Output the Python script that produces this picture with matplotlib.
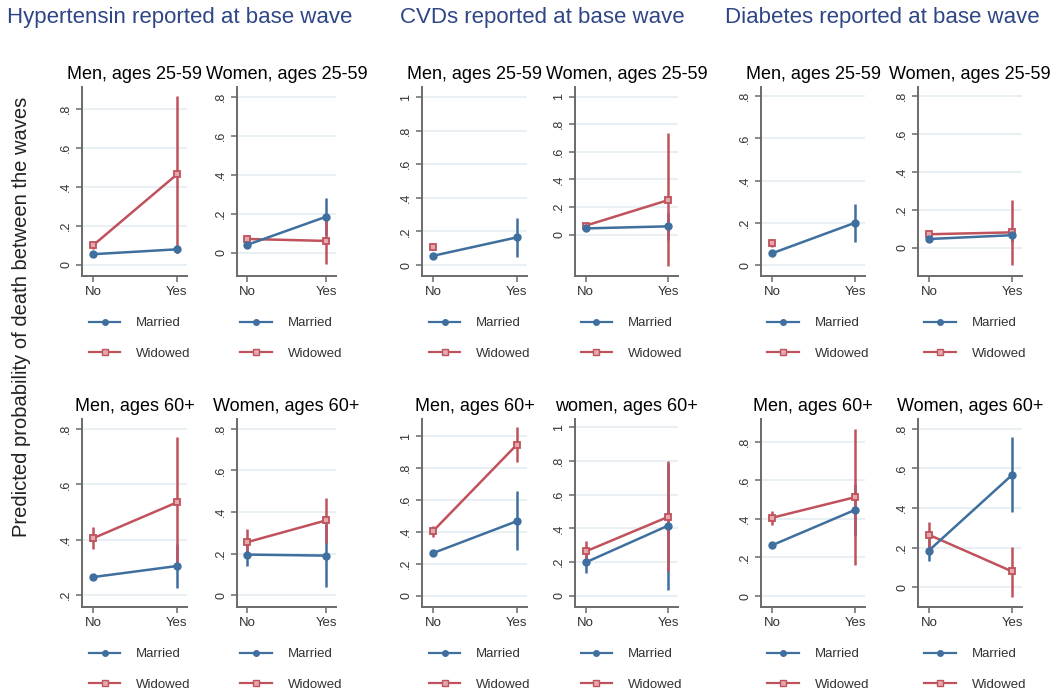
import numpy as np
import matplotlib
matplotlib.use("Agg")
import matplotlib.pyplot as plt
from matplotlib.lines import Line2D

plt.rcParams["font.family"] = ["Liberation Sans", "DejaVu Sans"]

# ------------------------------------------------------------
# predicted probabilities (No / Yes) with 95% CI
# panel order: men 25-59, women 25-59, men 60+, women 60+
# ------------------------------------------------------------
nan = np.nan
levels = ["No", "Yes"]
group_titles = ["Hypertensin reported at base wave",
                "CVDs reported at base wave",
                "Diabetes reported at base wave"]
panel_titles = [
    ["Men, ages 25-59", "Women, ages 25-59", "Men, ages 60+", "Women, ages 60+"],
    ["Men, ages 25-59", "Women, ages 25-59", "Men, ages 60+", "women, ages 60+"],
    ["Men, ages 25-59", "Women, ages 25-59", "Men, ages 60+", "Women, ages 60+"],
]

# hypertension
hyp_married = [(0.055, 0.080), (0.040, 0.185), (0.265, 0.305), (0.195, 0.190)]
hyp_married_lo = [(0.045, 0.060), (0.030, 0.090), (0.255, 0.225), (0.140, 0.040)]
hyp_married_hi = [(0.065, 0.100), (0.050, 0.280), (0.275, 0.385), (0.250, 0.340)]
hyp_widowed = [(0.100, 0.465), (0.070, 0.060), (0.405, 0.535), (0.255, 0.360)]
hyp_widowed_lo = [(0.080, 0.060), (0.050, -0.060), (0.365, 0.300), (0.190, 0.250)]
hyp_widowed_hi = [(0.120, 0.870), (0.090, 0.180), (0.445, 0.770), (0.320, 0.465)]

# cardiovascular disease
cvd_married = [(0.055, 0.165), (0.045, 0.060), (0.268, 0.468), (0.199, 0.417)]
cvd_married_lo = [(0.045, 0.050), (0.035, -0.040), (0.255, 0.290), (0.135, 0.035)]
cvd_married_hi = [(0.065, 0.280), (0.055, 0.160), (0.281, 0.658), (0.254, 0.790)]
cvd_widowed = [(0.105, nan), (0.065, 0.250), (0.405, 0.947), (0.264, 0.469)]
cvd_widowed_lo = [(0.090, nan), (0.055, -0.230), (0.370, 0.836), (0.205, 0.145)]
cvd_widowed_hi = [(0.120, nan), (0.075, 0.740), (0.440, 1.060), (0.324, 0.800)]

# diabetes
dia_married = [(0.055, 0.200), (0.045, 0.065), (0.263, 0.447), (0.185, 0.567)]
dia_married_lo = [(0.045, 0.110), (0.035, 0.030), (0.250, 0.310), (0.134, 0.378)]
dia_married_hi = [(0.065, 0.290), (0.055, 0.100), (0.276, 0.580), (0.245, 0.758)]
dia_widowed = [(0.105, nan), (0.070, 0.080), (0.406, 0.513), (0.265, 0.080)]
dia_widowed_lo = [(0.085, nan), (0.060, -0.090), (0.370, 0.160), (0.200, -0.047)]
dia_widowed_hi = [(0.125, nan), (0.080, 0.250), (0.440, 0.866), (0.327, 0.205)]

groups = [
    (hyp_married, hyp_married_lo, hyp_married_hi, hyp_widowed, hyp_widowed_lo, hyp_widowed_hi),
    (cvd_married, cvd_married_lo, cvd_married_hi, cvd_widowed, cvd_widowed_lo, cvd_widowed_hi),
    (dia_married, dia_married_lo, dia_married_hi, dia_widowed, dia_widowed_lo, dia_widowed_hi),
]

# y ranges / ticks per panel (group, panel)
ylims = [
    [(-0.057, 0.914), (-0.12, 0.85), (0.157, 0.836), (-0.057, 0.847)],
    [(-0.065, 1.06), (-0.30, 1.07), (-0.069, 1.107), (-0.066, 1.05)],
    [(-0.052, 0.843), (-0.15, 0.846), (-0.057, 0.919), (-0.10, 0.85)],
]
yticks = [
    [[0, .2, .4, .6, .8], [0, .2, .4, .6, .8], [.2, .4, .6, .8], [0, .2, .4, .6, .8]],
    [[0, .2, .4, .6, .8, 1], [0, .2, .4, .6, .8, 1], [0, .2, .4, .6, .8, 1], [0, .2, .4, .6, .8, 1]],
    [[0, .2, .4, .6, .8], [0, .2, .4, .6, .8], [0, .2, .4, .6, .8], [0, .2, .4, .6, .8]],
]

BLUE = "#3f6f9e"
RED = "#c0525c"
RED_FILL = "#e3a9ad"
AXCOL = "#6a6a6a"
GRID = "#e4eef1"

W, H = 1055, 690
fig = plt.figure(figsize=(W / 100, H / 100), dpi=100)

# axes boxes in pixels
col_left = [82, 237, 422, 575, 761, 918]
col_right = [187, 336, 527, 678, 865, 1022]
row_top = [87, 419]
row_bottom = [276, 607]


def fmt(v):
    if v == 0:
        return "0"
    if v == 1:
        return "1"
    return ("%.1f" % v).lstrip("0")


def draw_panel(ax, m, mlo, mhi, w, wlo, whi, ylim, ticks, title):
    x = np.arange(len(levels))
    ax.vlines(x, mlo, mhi, color=BLUE, lw=1.8, zorder=3)
    ax.vlines(x, wlo, whi, color=RED, lw=1.8, zorder=3)
    ax.plot(x, w, color=RED, lw=1.8, marker="s", ms=5,
            mfc=RED_FILL, mec=RED, mew=1.3, zorder=4)
    ax.plot(x, m, color=BLUE, lw=1.8, marker="o", ms=5,
            mfc=BLUE, mec=BLUE, zorder=5)

    ax.set_xlim(-0.13, 1.12)
    ax.set_ylim(*ylim)
    ax.set_xticks(x)
    ax.set_xticklabels(levels, fontsize=9.5, color="#333333")
    ax.set_yticks(ticks)
    ax.set_yticklabels([fmt(t) for t in ticks], rotation=90, va="center",
                       fontsize=9, color="#333333")
    ax.yaxis.grid(True, color=GRID, lw=1.2)
    ax.set_axisbelow(True)
    for s in ("top", "right"):
        ax.spines[s].set_visible(False)
    for s in ("left", "bottom"):
        ax.spines[s].set_color(AXCOL)
        ax.spines[s].set_linewidth(1.4)
    ax.tick_params(direction="out", length=4, width=1.1, color=AXCOL, pad=3)
    ax.set_title(title, fontsize=13, pad=6)

    handles = [
        Line2D([], [], color=BLUE, lw=1.6, marker="o", ms=4, mfc=BLUE, mec=BLUE),
        Line2D([], [], color=RED, lw=1.6, marker="s", ms=4.5, mfc=RED_FILL, mec=RED),
    ]
    leg = ax.legend(handles, ["Married", "Widowed"], loc="upper center",
                    bbox_to_anchor=(0.55, -0.155), frameon=False, fontsize=9.5,
                    handlelength=2.4, handletextpad=1.2, labelspacing=1.4)
    for t in leg.get_texts():
        t.set_color("#333333")


for g in range(3):
    m_all, mlo_all, mhi_all, w_all, wlo_all, whi_all = groups[g]
    for p in range(4):
        r, c = divmod(p, 2)
        col = g * 2 + c
        l, rr = col_left[col], col_right[col]
        t, b = row_top[r], row_bottom[r]
        ax = fig.add_axes([l / W, 1 - b / H, (rr - l) / W, (b - t) / H])
        draw_panel(ax, m_all[p], mlo_all[p], mhi_all[p],
                   w_all[p], wlo_all[p], whi_all[p],
                   ylims[g][p], yticks[g][p], panel_titles[g][p])

# group headers
for x_c, txt in zip([180, 542, 882], group_titles):
    fig.text(x_c / W, 1 - 18 / H, txt, ha="center", va="center",
             fontsize=16, color="#2f4686")

fig.text(22 / W, 1 - 317 / H, "Predicted probability of death between the waves",
         rotation=90, ha="center", va="center", fontsize=14.5, color="#222222")

fig.savefig("out.png", dpi=100, facecolor="white")
